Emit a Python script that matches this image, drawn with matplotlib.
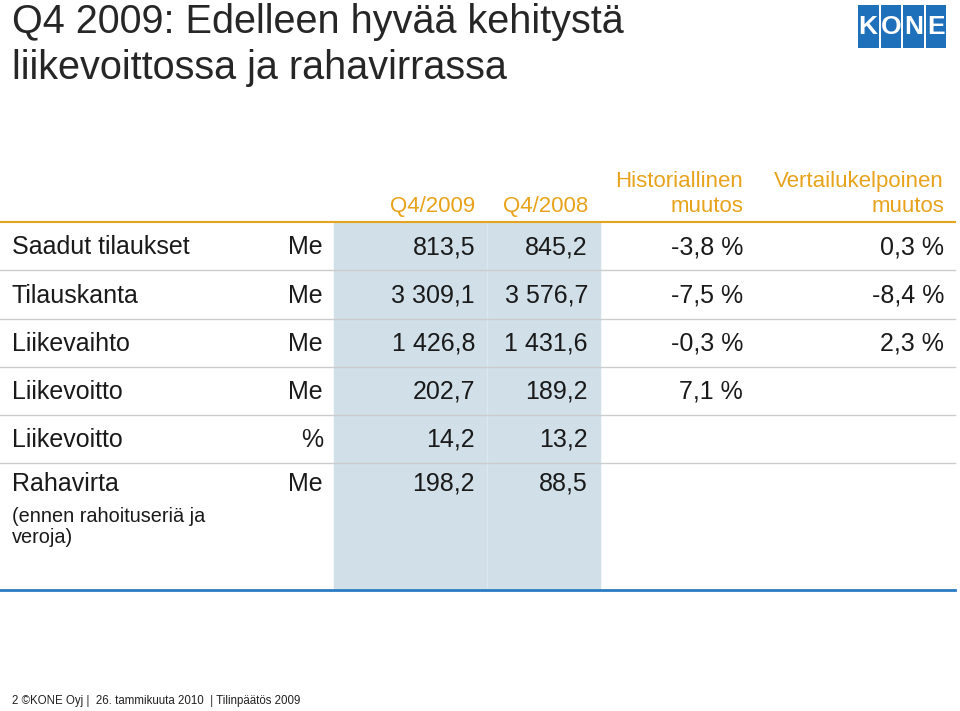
import matplotlib.pyplot as plt
from matplotlib.patches import Rectangle

plt.rcParams['font.family'] = ['Liberation Sans', 'DejaVu Sans']

# table contents
row_labels = ['Saadut tilaukset', 'Tilauskanta', 'Liikevaihto', 'Liikevoitto', 'Liikevoitto', 'Rahavirta']
units = ['Me', 'Me', 'Me', 'Me', '%', 'Me']
q4_2009 = ['813,5', '3 309,1', '1 426,8', '202,7', '14,2', '198,2']
q4_2008 = ['845,2', '3 576,7', '1 431,6', '189,2', '13,2', '88,5']
hist_change = ['-3,8 %', '-7,5 %', '-0,3 %', '7,1 %', '', '']
comp_change = ['0,3 %', '-8,4 %', '2,3 %', '', '', '']
col_headers = [['Q4/2009'], ['Q4/2008'], ['Historiallinen', 'muutos'], ['Vertailukelpoinen', 'muutos']]
note_lines = ['(ennen rahoituseriä ja', 'veroja)']

orange = '#E8A31C'
txt = '#1a1a1a'

fig = plt.figure(figsize=(9.6, 7.11), dpi=100)
ax = fig.add_axes([0, 0, 1, 1])
ax.set_xlim(0, 960)
ax.set_ylim(711, 0)
ax.axis('off')

# title
ax.text(12, 33, 'Q4 2009: Edelleen hyvää kehitystä', fontsize=28.5, color='#262626', va='baseline')
ax.text(12, 79, 'liikevoittossa ja rahavirrassa', fontsize=28.5, color='#262626', va='baseline')

# logo
for i, ch in enumerate('KONE'):
    ax.add_patch(Rectangle((858 + i * 22.5, 5), 20.5, 43, color='#1E70BA', lw=0))
    ax.text(858 + i * 22.5 + 10.25, 27, ch, color='white', fontsize=19, fontweight='bold',
            ha='center', va='center')

# shaded columns
ax.add_patch(Rectangle((334, 223), 266, 367, color='#D0DFE8', zorder=0))
ax.plot([487, 487], [223, 590], color='#DCE7EE', lw=1, zorder=1)

col_x = [475, 588, 743, 944]
for x, h in zip(col_x, col_headers):
    for k, line in enumerate(reversed(h)):
        ax.text(x, 212 - 25 * k, line, fontsize=16, color=orange, ha='right', va='baseline')

ax.plot([0, 955], [222, 222], color=orange, lw=1.5)

row_y = [247, 296, 344, 392, 440, 484]
for i, y in enumerate(row_y):
    ax.text(12, y, row_labels[i], fontsize=18, color=txt, va='center')
    ax.text(323, y, units[i], fontsize=18, color=txt, va='center', ha='right')
    for x, col in zip(col_x, [q4_2009, q4_2008, hist_change, comp_change]):
        ax.text(x, y, col[i], fontsize=18, color=txt, va='center', ha='right')
    if i < len(row_y) - 1:
        ax.plot([0, 955], [y + 23, y + 23], color='#CCCCCC', lw=1, zorder=2)

for k, line in enumerate(note_lines):
    ax.text(12, 522 + 21 * k, line, fontsize=14.3, color=txt, va='baseline')

ax.plot([0, 955], [590, 590], color='#2B7BC4', lw=2)

ax.text(12, 701, '2 ©KONE Oyj |  26. tammikuuta 2010  | Tilinpäätös 2009', fontsize=8.3,
        color='#222222', va='center')

fig.savefig('out.png', dpi=100)
